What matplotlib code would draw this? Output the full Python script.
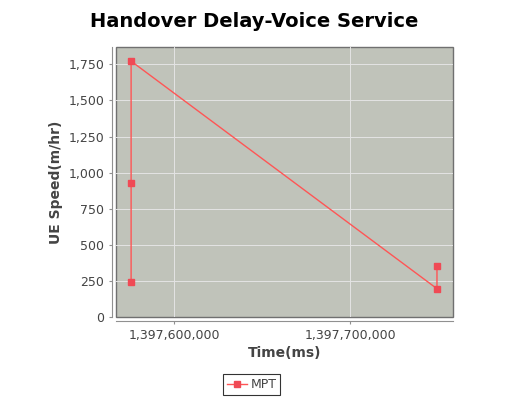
import matplotlib.pyplot as plt
from matplotlib.ticker import FuncFormatter

# data
time_ms = [1397575600, 1397575600, 1397575600, 1397749400, 1397749400]
speed = [245, 928, 1772, 196, 352]
series_name = "MPT"

x_ticks = [1397600000, 1397700000]
y_ticks = [0, 250, 500, 750, 1000, 1250, 1500, 1750]

plt.rcParams['font.family'] = ['DejaVu Sans']

fig = plt.figure(figsize=(5.08, 3.99), dpi=100)
ax = fig.add_axes([0.2283, 0.2055, 0.6634, 0.6767])

ax.set_facecolor('#c0c3ba')
ax.patch.set_edgecolor('#707070')
ax.patch.set_linewidth(1.0)

ax.plot(time_ms, speed, color='#ff5555', linewidth=1.0, marker='s',
        markersize=5, markerfacecolor='#f04a55', markeredgecolor='#f04a55',
        label=series_name, zorder=3)

ax.set_xlim(1397567000, 1397758500)
ax.set_ylim(0, 1870)
ax.set_xticks(x_ticks)
ax.set_yticks(y_ticks)
fmt = FuncFormatter(lambda v, p: '{:,.0f}'.format(v))
ax.xaxis.set_major_formatter(fmt)
ax.yaxis.set_major_formatter(fmt)

ax.grid(True, color='#e4e4e4', linewidth=0.7)
ax.set_axisbelow(True)

for s in ['top', 'right']:
    ax.spines[s].set_visible(False)
for s in ['left', 'bottom']:
    ax.spines[s].set_position(('outward', 3))
    ax.spines[s].set_color('#909090')
    ax.spines[s].set_linewidth(0.8)

ax.tick_params(axis='both', colors='#909090', labelcolor='#444444',
               labelsize=9, length=2, width=0.8)

ax.set_xlabel("Time(ms)", fontsize=10, fontweight='bold', color='#444444',
              labelpad=3)
ax.set_ylabel("UE Speed(m/hr)", fontsize=10, fontweight='bold',
              color='#444444', labelpad=4)

fig.text(0.5, 0.945, "Handover Delay-Voice Service", ha='center', va='center',
         fontsize=14, fontweight='bold', color='black')

leg = fig.legend(loc='center', bbox_to_anchor=(0.495, 0.036), fontsize=9,
                 frameon=True, fancybox=False, handlelength=1.6,
                 borderpad=0.3, handletextpad=0.3, labelcolor='#444444')
leg.get_frame().set_edgecolor('black')
leg.get_frame().set_linewidth(0.8)

fig.savefig('out.png', dpi=100, facecolor='white')
